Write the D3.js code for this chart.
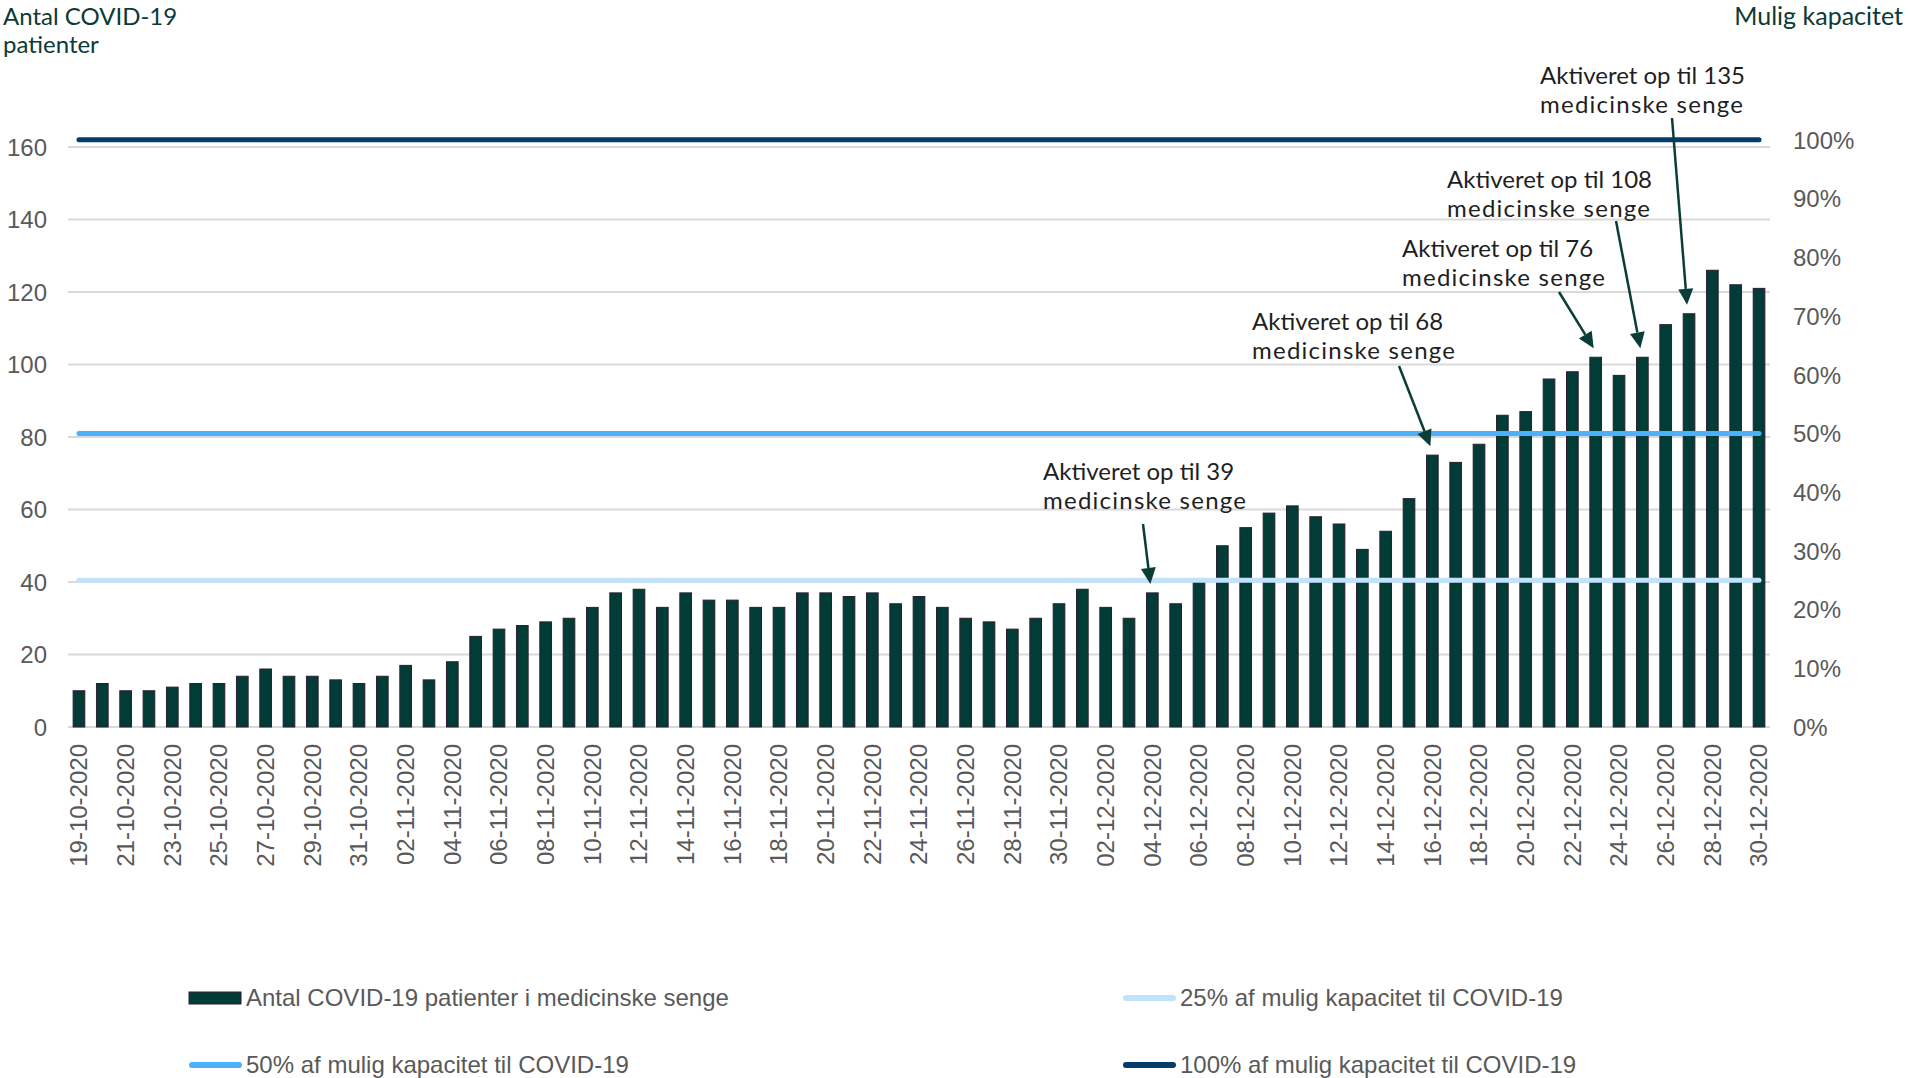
<!DOCTYPE html>
<html><head><meta charset="utf-8">
<script src="https://cdn.jsdelivr.net/npm/d3@7"></script>
<style>html,body{margin:0;padding:0;background:#fff;overflow:hidden}</style>
</head><body>
<svg id="chart" width="1910" height="1078"></svg>
<script>
const dates = [
 "19-10-2020","20-10-2020","21-10-2020","22-10-2020","23-10-2020","24-10-2020","25-10-2020","26-10-2020","27-10-2020","28-10-2020","29-10-2020","30-10-2020","31-10-2020",
 "01-11-2020","02-11-2020","03-11-2020","04-11-2020","05-11-2020","06-11-2020","07-11-2020","08-11-2020","09-11-2020","10-11-2020","11-11-2020","12-11-2020","13-11-2020","14-11-2020","15-11-2020","16-11-2020","17-11-2020","18-11-2020","19-11-2020","20-11-2020","21-11-2020","22-11-2020","23-11-2020","24-11-2020","25-11-2020","26-11-2020","27-11-2020","28-11-2020","29-11-2020","30-11-2020",
 "01-12-2020","02-12-2020","03-12-2020","04-12-2020","05-12-2020","06-12-2020","07-12-2020","08-12-2020","09-12-2020","10-12-2020","11-12-2020","12-12-2020","13-12-2020","14-12-2020","15-12-2020","16-12-2020","17-12-2020","18-12-2020","19-12-2020","20-12-2020","21-12-2020","22-12-2020","23-12-2020","24-12-2020","25-12-2020","26-12-2020","27-12-2020","28-12-2020","29-12-2020","30-12-2020"
];
const patients = [
 10,12,10,10,11,12,12,14,16,14,14,13,12,
 14,17,13,18,25,27,28,29,30,33,37,38,33,37,35,35,33,33,37,37,36,37,34,36,33,30,29,27,30,34,
 38,33,30,37,34,40,50,55,59,61,58,56,49,54,63,75,73,78,86,87,96,98,102,97,102,111,114,126,122,121
];
const leftTicks = [0,20,40,60,80,100,120,140,160];
const rightTicks = [0,0.1,0.2,0.3,0.4,0.5,0.6,0.7,0.8,0.9,1.0];
const capacity = 162;
const capacityShares = [0.25, 0.5, 1.0];
const seriesNames = ["Antal COVID-19 patienter i medicinske senge","25% af mulig kapacitet til COVID-19","50% af mulig kapacitet til COVID-19","100% af mulig kapacitet til COVID-19"];
const leftTitle = ["Antal COVID-19","patienter"];
const rightTitle = "Mulig kapacitet";
const annotationDates = ["04-12-2020","16-12-2020","23-12-2020","25-12-2020","27-12-2020"];
const annotationBeds = [39, 68, 76, 108, 135];

// ---- layout & style ----
const colors = {bar:"#023c37", barStroke:"#2e1f30", c25:"#c0e3fb", c50:"#4cb1fb", c100:"#063b6d",
  grid:"#d9d9d9", tick:"#595959", title:"#0b3b34", note:"#1f1f1f", arrow:"#0a3d36"};
const lineColor = {0.25:colors.c25, 0.5:colors.c50, 1.0:colors.c100};
const axisFont = "'Liberation Sans', Arial, sans-serif";
const noteFont = "Lato, 'Open Sans', sans-serif";

const svg = d3.select("#chart");
const x = d3.scaleBand().domain(dates).range([67.3, 1770.7]).paddingInner(0.5).paddingOuter(0.25);
const y = d3.scaleLinear().domain([0,160]).range([727,147]);
const yR = d3.scaleLinear().domain([0,1]).range([y(0), y(capacity)]);

// gridlines
svg.append("g").selectAll("line").data(leftTicks).join("line")
  .attr("x1",68).attr("x2",1770).attr("y1",d=>y(d)).attr("y2",d=>y(d))
  .attr("stroke",colors.grid).attr("stroke-width",2);

// left ticks
const leftAxis = d3.axisLeft(y).tickValues(leftTicks).tickSize(0).tickPadding(0);
const gL = svg.append("g").attr("transform","translate(47,0)").call(leftAxis);
gL.select(".domain").remove();
gL.selectAll("text").attr("font-family",axisFont).attr("font-size",24).attr("fill",colors.tick).attr("dy","0.35em");

// right ticks
const rightAxis = d3.axisRight(yR).tickValues(rightTicks).tickSize(0).tickPadding(0).tickFormat(d3.format(".0%"));
const gR = svg.append("g").attr("transform","translate(1793,0)").call(rightAxis);
gR.select(".domain").remove();
gR.selectAll("text").attr("font-family",axisFont).attr("font-size",24).attr("fill",colors.tick).attr("dy","0.35em");

// x axis labels
const xAxis = d3.axisBottom(x).tickValues(dates.filter((d,i)=>i%2===0)).tickSize(0).tickPadding(0);
const gX = svg.append("g").attr("transform",`translate(0,${y(0)})`).call(xAxis);
gX.select(".domain").remove();
gX.selectAll("text").attr("font-family",axisFont).attr("font-size",24).attr("fill",colors.tick)
  .attr("text-anchor","end").attr("transform","translate(0,17) rotate(-90)").attr("x",0).attr("y",0).attr("dy","0.35em");

// bars
svg.append("g").selectAll("rect").data(patients).join("rect")
  .attr("x",(d,i)=>x(dates[i])).attr("width",x.bandwidth())
  .attr("y",d=>y(d)).attr("height",d=>y(0)-y(d))
  .attr("fill",colors.bar).attr("stroke",colors.barStroke).attr("stroke-width",1);

// capacity lines
const line = d3.line().x(d=>x(d.date)+x.bandwidth()/2).y(d=>y(d.v));
svg.append("g").selectAll("path").data(capacityShares).join("path")
  .attr("d",s=>line(dates.map(dt=>({date:dt, v:capacity*s}))))
  .attr("fill","none").attr("stroke",s=>lineColor[s]).attr("stroke-width",5).attr("stroke-linecap","round");

// titles
const tl = svg.append("g").attr("font-family",noteFont).attr("font-size",24).attr("fill",colors.title);
tl.append("text").attr("x",3).attr("y",25).text(leftTitle[0]);
tl.append("text").attr("x",3).attr("y",53).text(leftTitle[1]);
tl.append("text").attr("x",1903).attr("y",25).attr("font-size",25).attr("text-anchor","end").text(rightTitle);

// annotations
const noteLayout = [
  {tx:1043, ty:480, sx:1143, sy:524},
  {tx:1252, ty:330, sx:1399, sy:366},
  {tx:1402, ty:257, sx:1559, sy:292},
  {tx:1447, ty:188, sx:1616, sy:221},
  {tx:1540, ty:84,  sx:1672, sy:118}
];
const gN = svg.append("g");
annotationDates.forEach((dt,i)=>{
  const L = noteLayout[i];
  const idx = dates.indexOf(dt);
  const tipX = x(dt)+x.bandwidth()/2-2, tipY = y(patients[idx])-9;
  const t = gN.append("text").attr("font-family",noteFont).attr("font-size",24).attr("fill",colors.note);
  t.append("tspan").attr("x",L.tx).attr("y",L.ty).text(`Aktiveret op til ${annotationBeds[i]}`);
  t.append("tspan").attr("x",L.tx).attr("y",L.ty+29).attr("textLength",203).attr("lengthAdjust","spacing").text("medicinske senge");
  const dx = tipX-L.sx, dy = tipY-L.sy, len = Math.hypot(dx,dy), ux=dx/len, uy=dy/len;
  const hl = 16, hw = 7.5;
  const bx = tipX-ux*hl, by = tipY-uy*hl;
  gN.append("line").attr("x1",L.sx).attr("y1",L.sy).attr("x2",bx).attr("y2",by)
    .attr("stroke",colors.arrow).attr("stroke-width",2.5);
  gN.append("path").attr("d",`M${tipX},${tipY}L${bx-uy*hw},${by+ux*hw}L${bx+uy*hw},${by-ux*hw}Z`).attr("fill",colors.arrow);
});

// legend
const legendPos = [{x:189, y:998},{x:1123, y:998},{x:189, y:1065},{x:1123, y:1065}];
const gLeg = svg.append("g");
seriesNames.forEach((name,i)=>{
  const p = legendPos[i];
  if(i===0){
    gLeg.append("rect").attr("x",p.x).attr("y",p.y-6).attr("width",52).attr("height",12)
      .attr("fill",colors.bar).attr("stroke",colors.barStroke).attr("stroke-width",1);
  } else {
    const share = [null,0.25,0.5,1.0][i];
    gLeg.append("line").attr("x1",p.x+3).attr("x2",p.x+50).attr("y1",p.y).attr("y2",p.y)
      .attr("stroke",lineColor[share]).attr("stroke-width",6).attr("stroke-linecap","round");
  }
  gLeg.append("text").attr("x",p.x+57).attr("y",p.y).attr("dy","0.35em")
    .attr("font-family",axisFont).attr("font-size",24).attr("fill",colors.tick).text(name);
});
</script>
</body></html>
